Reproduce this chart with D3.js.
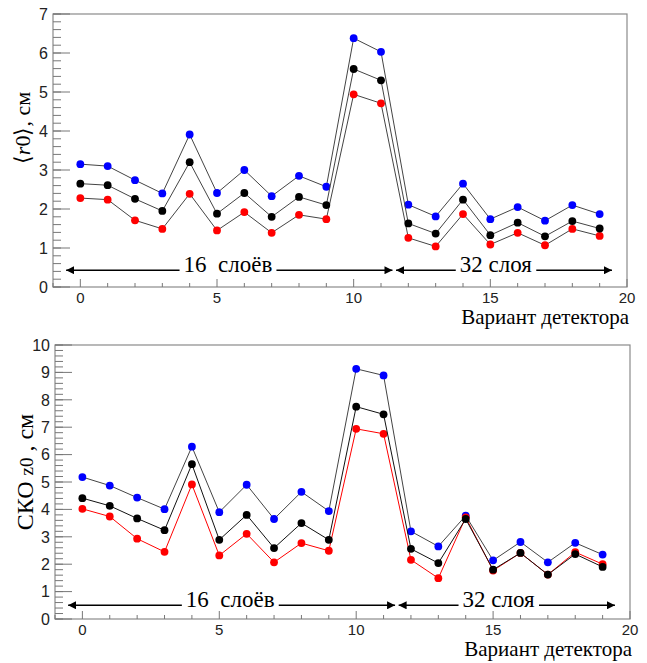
<!DOCTYPE html>
<html>
<head>
<meta charset="utf-8">
<script src="https://cdn.jsdelivr.net/npm/d3@7"></script>
<style>
  body { margin: 0; background: #fff; }
  svg { display: block; }
  .serif { font-family: "Liberation Serif", "Times New Roman", serif; }
  .sans { font-family: "Liberation Sans", Arial, sans-serif; }
</style>
</head>
<body>
<div id="chart"></div>
<script>
// detector variants
const variants = [0, 1, 2, 3, 4, 5, 6, 7, 8, 9, 10, 11, 12, 13, 14, 15, 16, 17, 18, 19]

// top panel: <r0>, cm
const r0Blue  = [3.15, 3.10, 2.74, 2.40, 3.91, 2.41, 3.00, 2.33, 2.85, 2.57, 6.38, 6.03, 2.11, 1.81, 2.65, 1.74, 2.05, 1.70, 2.10, 1.87]
const r0Black = [2.65, 2.61, 2.26, 1.95, 3.20, 1.88, 2.41, 1.80, 2.31, 2.10, 5.59, 5.30, 1.63, 1.37, 2.24, 1.33, 1.65, 1.30, 1.69, 1.50]
const r0Red   = [2.28, 2.24, 1.71, 1.49, 2.39, 1.45, 1.92, 1.39, 1.85, 1.74, 4.94, 4.71, 1.26, 1.04, 1.87, 1.09, 1.39, 1.07, 1.49, 1.31]

// bottom panel: RMS z0, cm
const z0Blue  = [5.18, 4.87, 4.43, 4.01, 6.29, 3.90, 4.90, 3.65, 4.64, 3.94, 9.13, 8.89, 3.20, 2.65, 3.77, 2.14, 2.81, 2.07, 2.78, 2.35]
const z0Black = [4.41, 4.13, 3.67, 3.24, 5.65, 2.89, 3.80, 2.59, 3.50, 2.89, 7.75, 7.47, 2.56, 2.04, 3.65, 1.80, 2.41, 1.62, 2.37, 1.90]
const z0Red   = [4.02, 3.74, 2.93, 2.45, 4.91, 2.32, 3.11, 2.07, 2.77, 2.49, 6.94, 6.76, 2.16, 1.49, 3.71, 1.77, 2.41, 1.62, 2.44, 2.00]

const xTicks = [0, 5, 10, 15, 20]

// layer annotations (data coords)
const groupLabels = ['16  слоёв', '32 слоя']
const groupFrom = [-0.52, 11.55]
const groupTo = [11.42, 19.45]
const groupTextX = [5.4, 15.2]

const width = 647, height = 663

const svg = d3.select('#chart').append('svg')
  .attr('width', width)
  .attr('height', height)

const defs = svg.append('defs')
defs.append('marker')
  .attr('id', 'head')
  .attr('viewBox', '0 0 10 10')
  .attr('refX', 10).attr('refY', 5)
  .attr('markerWidth', 8).attr('markerHeight', 8)
  .attr('markerUnits', 'userSpaceOnUse')
  .attr('orient', 'auto-start-reverse')
  .append('path')
  .attr('d', 'M0,0 L10,5 L0,10 Z')
  .attr('fill', '#000')

const panels = [
  {
    left: 53, right: 627, top: 14, bottom: 287, ymax: 7,
    yticks: [0, 1, 2, 3, 4, 5, 6, 7],
    series: [
      { values: r0Blue, dot: '#0000ff', line: '#444' },
      { values: r0Red, dot: '#ff0000', line: '#444' },
      { values: r0Black, dot: '#000000', line: '#444' }
    ],
    arrowY: 0.43,
    title: 'r0',
    titleX: 22, titleY: 128
  },
  {
    left: 55, right: 630, top: 345, bottom: 619, ymax: 10,
    yticks: [0, 1, 2, 3, 4, 5, 6, 7, 8, 9, 10],
    series: [
      { values: z0Blue, dot: '#0000ff', line: '#444' },
      { values: z0Red, dot: '#ff0000', line: '#ff0000' },
      { values: z0Black, dot: '#000000', line: '#111' }
    ],
    arrowY: 0.5,
    title: 'z0',
    titleX: 25, titleY: 472
  }
]

panels.forEach(p => {
  const x = d3.scaleLinear().domain([-1, 20]).range([p.left, p.right])
  const y = d3.scaleLinear().domain([0, p.ymax]).range([p.bottom, p.top])
  const g = svg.append('g')

  // frame
  g.append('rect')
    .attr('x', p.left).attr('y', p.top)
    .attr('width', p.right - p.left).attr('height', p.bottom - p.top)
    .attr('fill', 'none').attr('stroke', '#8a8a8a').attr('stroke-width', 1.2)

  // y axis: major + minor ticks inside
  const yMinor = d3.range(0, p.ymax + 0.001, 0.2)
  g.append('g').selectAll('line').data(yMinor).join('line')
    .attr('x1', p.left).attr('x2', p.left + 8)
    .attr('y1', d => y(d)).attr('y2', d => y(d))
    .attr('stroke', '#777')
  g.append('g').selectAll('line').data(p.yticks).join('line')
    .attr('x1', p.left).attr('x2', p.left + 17)
    .attr('y1', d => y(d)).attr('y2', d => y(d))
    .attr('stroke', '#777')
  g.append('g').selectAll('text').data(p.yticks).join('text')
    .attr('class', 'sans')
    .attr('x', p.left - 5).attr('y', d => y(d))
    .attr('dy', '0.36em')
    .attr('text-anchor', 'end')
    .attr('font-size', 16)
    .attr('fill', '#222')
    .text(d => d)

  // x axis ticks
  g.append('g').selectAll('line').data(d3.range(-1, 21)).join('line')
    .attr('x1', d => x(d)).attr('x2', d => x(d))
    .attr('y1', p.bottom).attr('y2', d => p.bottom - (d % 5 === 0 ? 8 : 4))
    .attr('stroke', '#777')
  g.append('g').selectAll('text').data(xTicks).join('text')
    .attr('class', 'sans')
    .attr('x', d => x(d)).attr('y', p.bottom + 16)
    .attr('text-anchor', 'middle')
    .attr('font-size', 15)
    .attr('fill', '#222')
    .text(d => d)

  // x title
  g.append('text')
    .attr('class', 'serif')
    .attr('x', p.right + 2).attr('y', p.bottom + 37)
    .attr('text-anchor', 'end')
    .attr('font-size', 21)
    .text('Вариант детектора')

  // y title
  const yt = g.append('text')
    .attr('class', 'serif')
    .attr('transform', `translate(${p.titleX},${p.titleY}) rotate(-90)`)
    .attr('text-anchor', 'middle')
    .attr('dy', '0.35em')
    .attr('font-size', p.title === 'r0' ? 22 : 24)
  if (p.title === 'r0') {
    yt.append('tspan').text('⟨')
    yt.append('tspan').attr('font-style', 'italic').text('r')
    yt.append('tspan').text('0⟩, см')
  } else {
    yt.append('tspan').text('СКО ')
    yt.append('tspan').attr('font-size', 19).text('z0')
    yt.append('tspan').text(' , см')
  }

  // series
  p.series.forEach(s => {
    const pts = variants.map((v, i) => [v, s.values[i]])
    g.append('path')
      .attr('d', d3.line().x(d => x(d[0])).y(d => y(d[1]))(pts))
      .attr('fill', 'none')
      .attr('stroke', s.line)
      .attr('stroke-width', 1)
    g.append('g').selectAll('circle').data(pts).join('circle')
      .attr('cx', d => x(d[0])).attr('cy', d => y(d[1]))
      .attr('r', 3.9)
      .attr('fill', s.dot)
  })

  // layer group arrows
  groupLabels.forEach((lab, i) => {
    const ay = y(p.arrowY)
    g.append('line')
      .attr('x1', x(groupFrom[i])).attr('x2', x(groupTo[i]))
      .attr('y1', ay).attr('y2', ay)
      .attr('stroke', '#000').attr('stroke-width', 1.6)
      .attr('marker-start', 'url(#head)')
      .attr('marker-end', 'url(#head)')
    const t = g.append('text')
      .attr('class', 'serif')
      .attr('x', x(groupTextX[i])).attr('y', ay + 2)
      .attr('text-anchor', 'middle')
      .attr('font-size', 23)
      .style('white-space', 'pre')
      .text(lab)
    const bb = t.node().getBBox()
    g.insert('rect', () => t.node())
      .attr('x', bb.x - 4).attr('y', ay - 3)
      .attr('width', bb.width + 8).attr('height', 6)
      .attr('fill', '#fff')
  })
})
</script>
</body>
</html>
